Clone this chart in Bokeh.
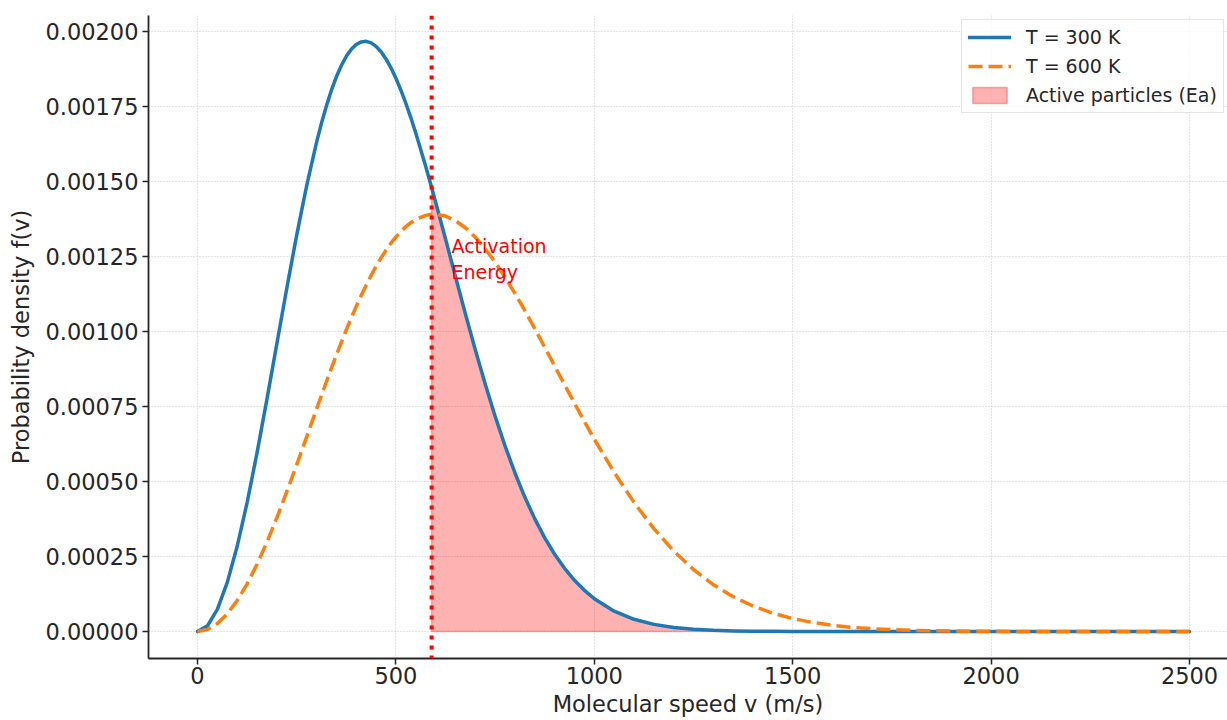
from bokeh.plotting import figure
from bokeh.models import Range1d, FixedTicker, PrintfTickFormatter, Span, Legend, LegendItem
from bokeh.core.properties import value
from bokeh.embed import file_html
from bokeh.resources import INLINE

# ---- data ----
speed = [0, 25, 50, 75, 100, 125, 150, 175, 200, 225, 250, 275, 300, 312.5, 325,
         337.5, 350, 362.5, 375, 387.5, 400, 412.5, 425, 437.5, 450, 462.5, 475,
         487.5, 500, 512.5, 525, 537.5, 550, 575, 590, 600, 625, 650, 675, 700, 725,
         750, 775, 800, 825, 850, 875, 900, 925, 950, 975, 1000, 1050, 1100, 1150,
         1200, 1250, 1300, 1350, 1400, 1450, 1500, 1550, 1600, 1650, 1700, 1750,
         1800, 1850, 1900, 1950, 2000, 2100, 2200, 2300, 2400, 2500]

density_300K = [0.0, 1.870e-5, 7.403e-5, 1.6367e-4, 2.839e-4, 4.298e-4, 5.955e-4,
                7.744e-4, 9.596e-4, 1.1441e-3, 1.3213e-3, 1.4852e-3, 1.6305e-3,
                1.6947e-3, 1.7528e-3, 1.8044e-3, 1.8490e-3, 1.8867e-3, 1.9172e-3,
                1.9404e-3, 1.9566e-3, 1.9653e-3, 1.9672e-3, 1.9622e-3, 1.9503e-3,
                1.9325e-3, 1.9085e-3, 1.8790e-3, 1.8443e-3, 1.8047e-3, 1.7608e-3,
                1.7131e-3, 1.6617e-3, 1.5509e-3, 1.4803e-3,
                1.4319e-3, 1.3082e-3, 1.1832e-3, 1.0593e-3, 9.393e-4, 8.249e-4,
                7.176e-4, 6.186e-4, 5.284e-4, 4.473e-4, 3.754e-4, 3.122e-4, 2.574e-4,
                2.105e-4, 1.706e-4, 1.372e-4, 1.094e-4, 6.78e-5, 4.07e-5, 2.37e-5,
                1.33e-5, 7.3e-6, 3.8e-6, 1.9e-6, 1.0e-6, 5e-7, 2e-7, 0.0, 0.0, 0.0,
                0.0, 0.0, 0.0, 0.0, 0.0, 0.0, 0.0, 0.0, 0.0, 0.0, 0.0, 0.0]

density_600K = [0.0, 6.6e-6, 2.634e-5, 5.875e-5, 1.0318e-4, 1.5869e-4, 2.2414e-4,
                2.982e-4, 3.7937e-4, 4.6604e-4, 5.5649e-4, 6.490e-4, 7.4182e-4,
                7.8783e-4, 8.3325e-4, 8.7796e-4, 9.2165e-4, 9.6431e-4, 1.0056e-3,
                1.0454e-3, 1.0836e-3, 1.1200e-3, 1.1545e-3, 1.1869e-3, 1.2172e-3,
                1.2453e-3, 1.2710e-3, 1.2943e-3, 1.3152e-3, 1.3336e-3, 1.3494e-3,
                1.3627e-3, 1.3734e-3, 1.3871e-3, 1.3906e-3,
                1.3909e-3, 1.3848e-3, 1.3697e-3, 1.3459e-3, 1.3143e-3, 1.2758e-3,
                1.2310e-3, 1.1810e-3, 1.1269e-3, 1.0692e-3, 1.0092e-3, 9.474e-4,
                8.851e-4, 8.225e-4, 7.608e-4, 7.000e-4, 6.412e-4, 5.302e-4, 4.304e-4,
                3.430e-4, 2.685e-4, 2.066e-4, 1.562e-4, 1.161e-4, 8.50e-5, 6.11e-5,
                4.32e-5, 3.01e-5, 2.06e-5, 1.39e-5, 9.2e-6, 6.0e-6, 3.9e-6, 2.4e-6,
                1.5e-6, 9e-7, 5e-7, 2e-7, 0.0, 0.0, 0.0, 0.0]

activation_speed = 590
annotation_offset = 50
annotation_y = 0.00132
annotation_text = "Activation\nEnergy"

x_ticks = [0, 500, 1000, 1500, 2000, 2500]
y_ticks = [0.0, 0.00025, 0.0005, 0.00075, 0.001, 0.00125, 0.0015, 0.00175, 0.002]
series_labels = ["T = 300 K", "T = 600 K", "Active particles (Ea)"]
x_label = "Molecular speed v (m/s)"
y_label = "Probability density f(v)"

FONT = "DejaVu Sans"
TXT = "#262626"

# ---- figure ----
p = figure(width=1227, height=720, output_backend="svg", toolbar_location=None,
           x_range=Range1d(-123.5, 2595.7), y_range=Range1d(-0.00009, 0.0020533),
           min_border_left=148, min_border_right=0, min_border_top=15, min_border_bottom=62)
p.outline_line_color = None
p.background_fill_color = "white"
p.border_fill_color = "white"

# active-particle area under the 300 K curve, beyond the activation speed
active_x = [s for s in speed if s >= activation_speed]
active_y = [d for s, d in zip(speed, density_300K) if s >= activation_speed]
poly_x = active_x + active_x[::-1]
poly_y = active_y + [0.0] * len(active_x)
r_fill = p.patch(poly_x, poly_y, fill_color="#ff0000", fill_alpha=0.3,
                 line_color="#ff0000", line_alpha=0.3, line_width=1.5)

r300 = p.line(speed, density_300K, line_color="#1f77b4", line_width=3.5,
              line_join="round", line_cap="round")
r600 = p.line(speed, density_600K, line_color="#ff7f0e", line_width=3.5,
              line_dash="14 6")

p.add_layout(Span(location=activation_speed, dimension="height", line_color="red",
                  line_width=4, line_dash="4 6"))

p.text(x=[activation_speed + annotation_offset], y=[annotation_y], text=[annotation_text],
       text_color="red", text_font=value(FONT), text_font_size="19px",
       text_baseline="top", text_align="left", text_line_height=1.15)

# ---- axes ----
p.xaxis.ticker = FixedTicker(ticks=x_ticks)
p.yaxis.ticker = FixedTicker(ticks=y_ticks)
p.yaxis.formatter = PrintfTickFormatter(format="%.5f")
p.xaxis.axis_label = x_label
p.yaxis.axis_label = y_label
for ax in (p.xaxis, p.yaxis):
    ax.axis_line_color = TXT
    ax.axis_line_width = 1.8
    ax.major_tick_line_color = TXT
    ax.major_tick_line_width = 1.5
    ax.major_tick_out = 6
    ax.major_tick_in = 0
    ax.minor_tick_line_color = None
    ax.major_label_text_font = FONT
    ax.major_label_text_font_size = "22.5px"
    ax.major_label_text_color = TXT
    ax.axis_label_text_font = FONT
    ax.axis_label_text_font_size = "22.5px"
    ax.axis_label_text_font_style = "normal"
    ax.axis_label_text_color = TXT
p.xaxis.major_label_standoff = 2
p.xaxis.axis_label_standoff = 4
p.yaxis.major_label_standoff = 4
p.yaxis.axis_label_standoff = 8

p.grid.grid_line_color = "#c8c8c8"
p.grid.grid_line_dash = "1 2"
p.grid.grid_line_width = 1

# ---- legend ----
legend = Legend(items=[LegendItem(label=series_labels[0], renderers=[r300]),
                       LegendItem(label=series_labels[1], renderers=[r600]),
                       LegendItem(label=series_labels[2], renderers=[r_fill])],
                location=(813, 545))
legend.label_text_font = FONT
legend.label_text_font_size = "19px"
legend.label_text_color = TXT
legend.glyph_width = 43
legend.glyph_height = 20
legend.label_height = 20
legend.label_standoff = 15
legend.spacing = 7
legend.padding = 6
legend.margin = 0
legend.border_line_color = "#cccccc"
legend.border_line_width = 1.5
legend.background_fill_alpha = 0.8
p.add_layout(legend)

open("out.html", "w").write(file_html(p, INLINE))
